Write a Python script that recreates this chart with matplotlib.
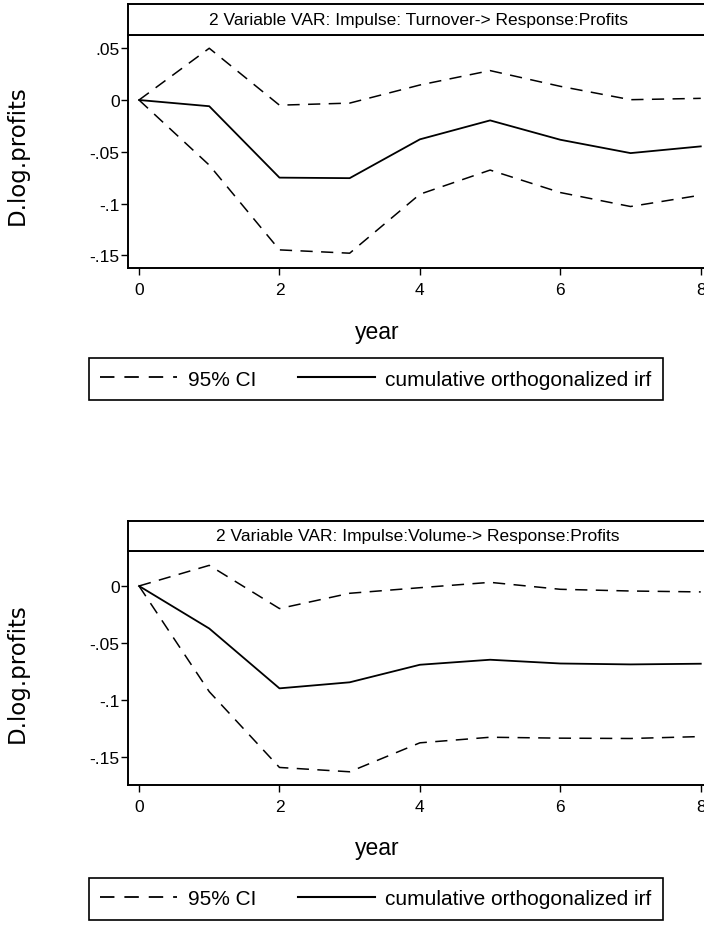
import matplotlib
matplotlib.use("Agg")
import matplotlib.pyplot as plt
from matplotlib.lines import Line2D

# === DATA ===
years = [0, 1, 2, 3, 4, 5, 6, 7, 8]

# panel 1: impulse turnover -> response profits
turn_irf = [0, -0.006, -0.075, -0.0755, -0.038, -0.0197, -0.0384, -0.0513, -0.0448]
turn_upper = [0, 0.050, -0.005, -0.003, 0.0145, 0.0284, 0.0132, 0.0003, 0.0016]
turn_lower = [0, -0.0629, -0.1448, -0.148, -0.091, -0.0677, -0.0894, -0.1029, -0.0919]

# panel 2: impulse volume -> response profits
vol_irf = [0, -0.0373, -0.0898, -0.0845, -0.0691, -0.0647, -0.068, -0.0688, -0.0682]
vol_upper = [0, 0.0181, -0.0198, -0.0064, -0.0015, 0.0032, -0.0029, -0.0044, -0.0052]
vol_lower = [0, -0.0927, -0.1592, -0.163, -0.1376, -0.1327, -0.1335, -0.1338, -0.1321]

titles = ["2 Variable VAR: Impulse: Turnover-> Response:Profits",
          "2 Variable VAR: Impulse:Volume-> Response:Profits"]
yticks_top = [0.05, 0, -0.05, -0.1, -0.15]
ylabels_top = [".05", "0", "-.05", "-.1", "-.15"]
yticks_bot = [0, -0.05, -0.1, -0.15]
ylabels_bot = ["0", "-.05", "-.1", "-.15"]
xticks = [0, 2, 4, 6, 8]

NARROW = ["Liberation Sans", "DejaVu Sans"]
DASH = (8, 5.5)

W, H = 704, 928
fig = plt.figure(figsize=(W / 100, H / 100), dpi=100)


def fx(px):
    return px / W


def fy(px):
    return 1 - px / H


panels = [
    dict(top=36, bot=269, strip=5, ylim=(-0.1623, 0.0628), irf=turn_irf, up=turn_upper,
         lo=turn_lower, yt=yticks_top, yl=ylabels_top, ylab_y=155, year_y=333,
         leg_c=(376, 380)),
    dict(top=552, bot=786, strip=522, ylim=(-0.1746, 0.0307), irf=vol_irf, up=vol_upper,
         lo=vol_lower, yt=yticks_bot, yl=ylabels_bot, ylab_y=673, year_y=848,
         leg_c=(376, 900)),
]

left_px, right_px = 128, 712

for i, p in enumerate(panels):
    ax = fig.add_axes([fx(left_px), fy(p["bot"]), fx(right_px - left_px),
                       (p["bot"] - p["top"]) / H])
    ax.plot(years, p["up"], color="black", lw=1.1, dashes=DASH)
    ax.plot(years, p["lo"], color="black", lw=1.1, dashes=DASH)
    ax.plot(years, p["irf"], color="black", lw=1.3)
    ax.set_xlim(-0.157, 8.16)
    ax.set_ylim(*p["ylim"])
    ax.set_xticks(xticks)
    ax.set_yticks(p["yt"])
    ax.set_yticklabels(p["yl"])
    ax.tick_params(direction="out", length=5, width=1, color="black")
    ax.tick_params(axis="x", pad=5)
    ax.tick_params(axis="y", pad=1)
    for lab in ax.get_xticklabels() + ax.get_yticklabels():
        lab.set_family(NARROW)
        lab.set_fontsize(12.5)
    for s in ax.spines.values():
        s.set_linewidth(1.4)

    # title strip above plot region
    st = fig.add_axes([fx(left_px), fy(p["top"]), fx(right_px - left_px),
                       (p["top"] - p["strip"]) / H])
    st.set_xticks([])
    st.set_yticks([])
    for s in st.spines.values():
        s.set_linewidth(1.4)
    st.text(0.5 - 2 / (right_px - left_px), 0.5, titles[i], ha="center", va="center",
            family=NARROW, fontsize=12.5, transform=st.transAxes)

    fig.text(fx(17), fy(p["ylab_y"]), "D.log.profits", rotation=90, ha="center",
             va="center", family="DejaVu Sans", fontsize=16.5)
    fig.text(fx(377), fy(p["year_y"]), "year", ha="center", va="center",
             family=NARROW, fontsize=16.5)

    # legend box
    handles = [Line2D([], [], color="black", lw=1.3, dashes=DASH),
               Line2D([], [], color="black", lw=1.5)]
    cx, cy = p["leg_c"]
    leg = fig.legend(handles, ["95% CI", "cumulative orthogonalized irf"],
                     loc="center", ncol=2, frameon=True, fancybox=False,
                     bbox_to_anchor=(fx(cx), fy(cy)), bbox_transform=fig.transFigure,
                     prop={"family": NARROW, "size": 15}, handlelength=3.7,
                     columnspacing=2.0, handletextpad=0.5, borderpad=0.55,
                     framealpha=1)
    leg.get_frame().set_edgecolor("black")
    leg.get_frame().set_linewidth(1.2)

fig.savefig("out.png", dpi=100)
